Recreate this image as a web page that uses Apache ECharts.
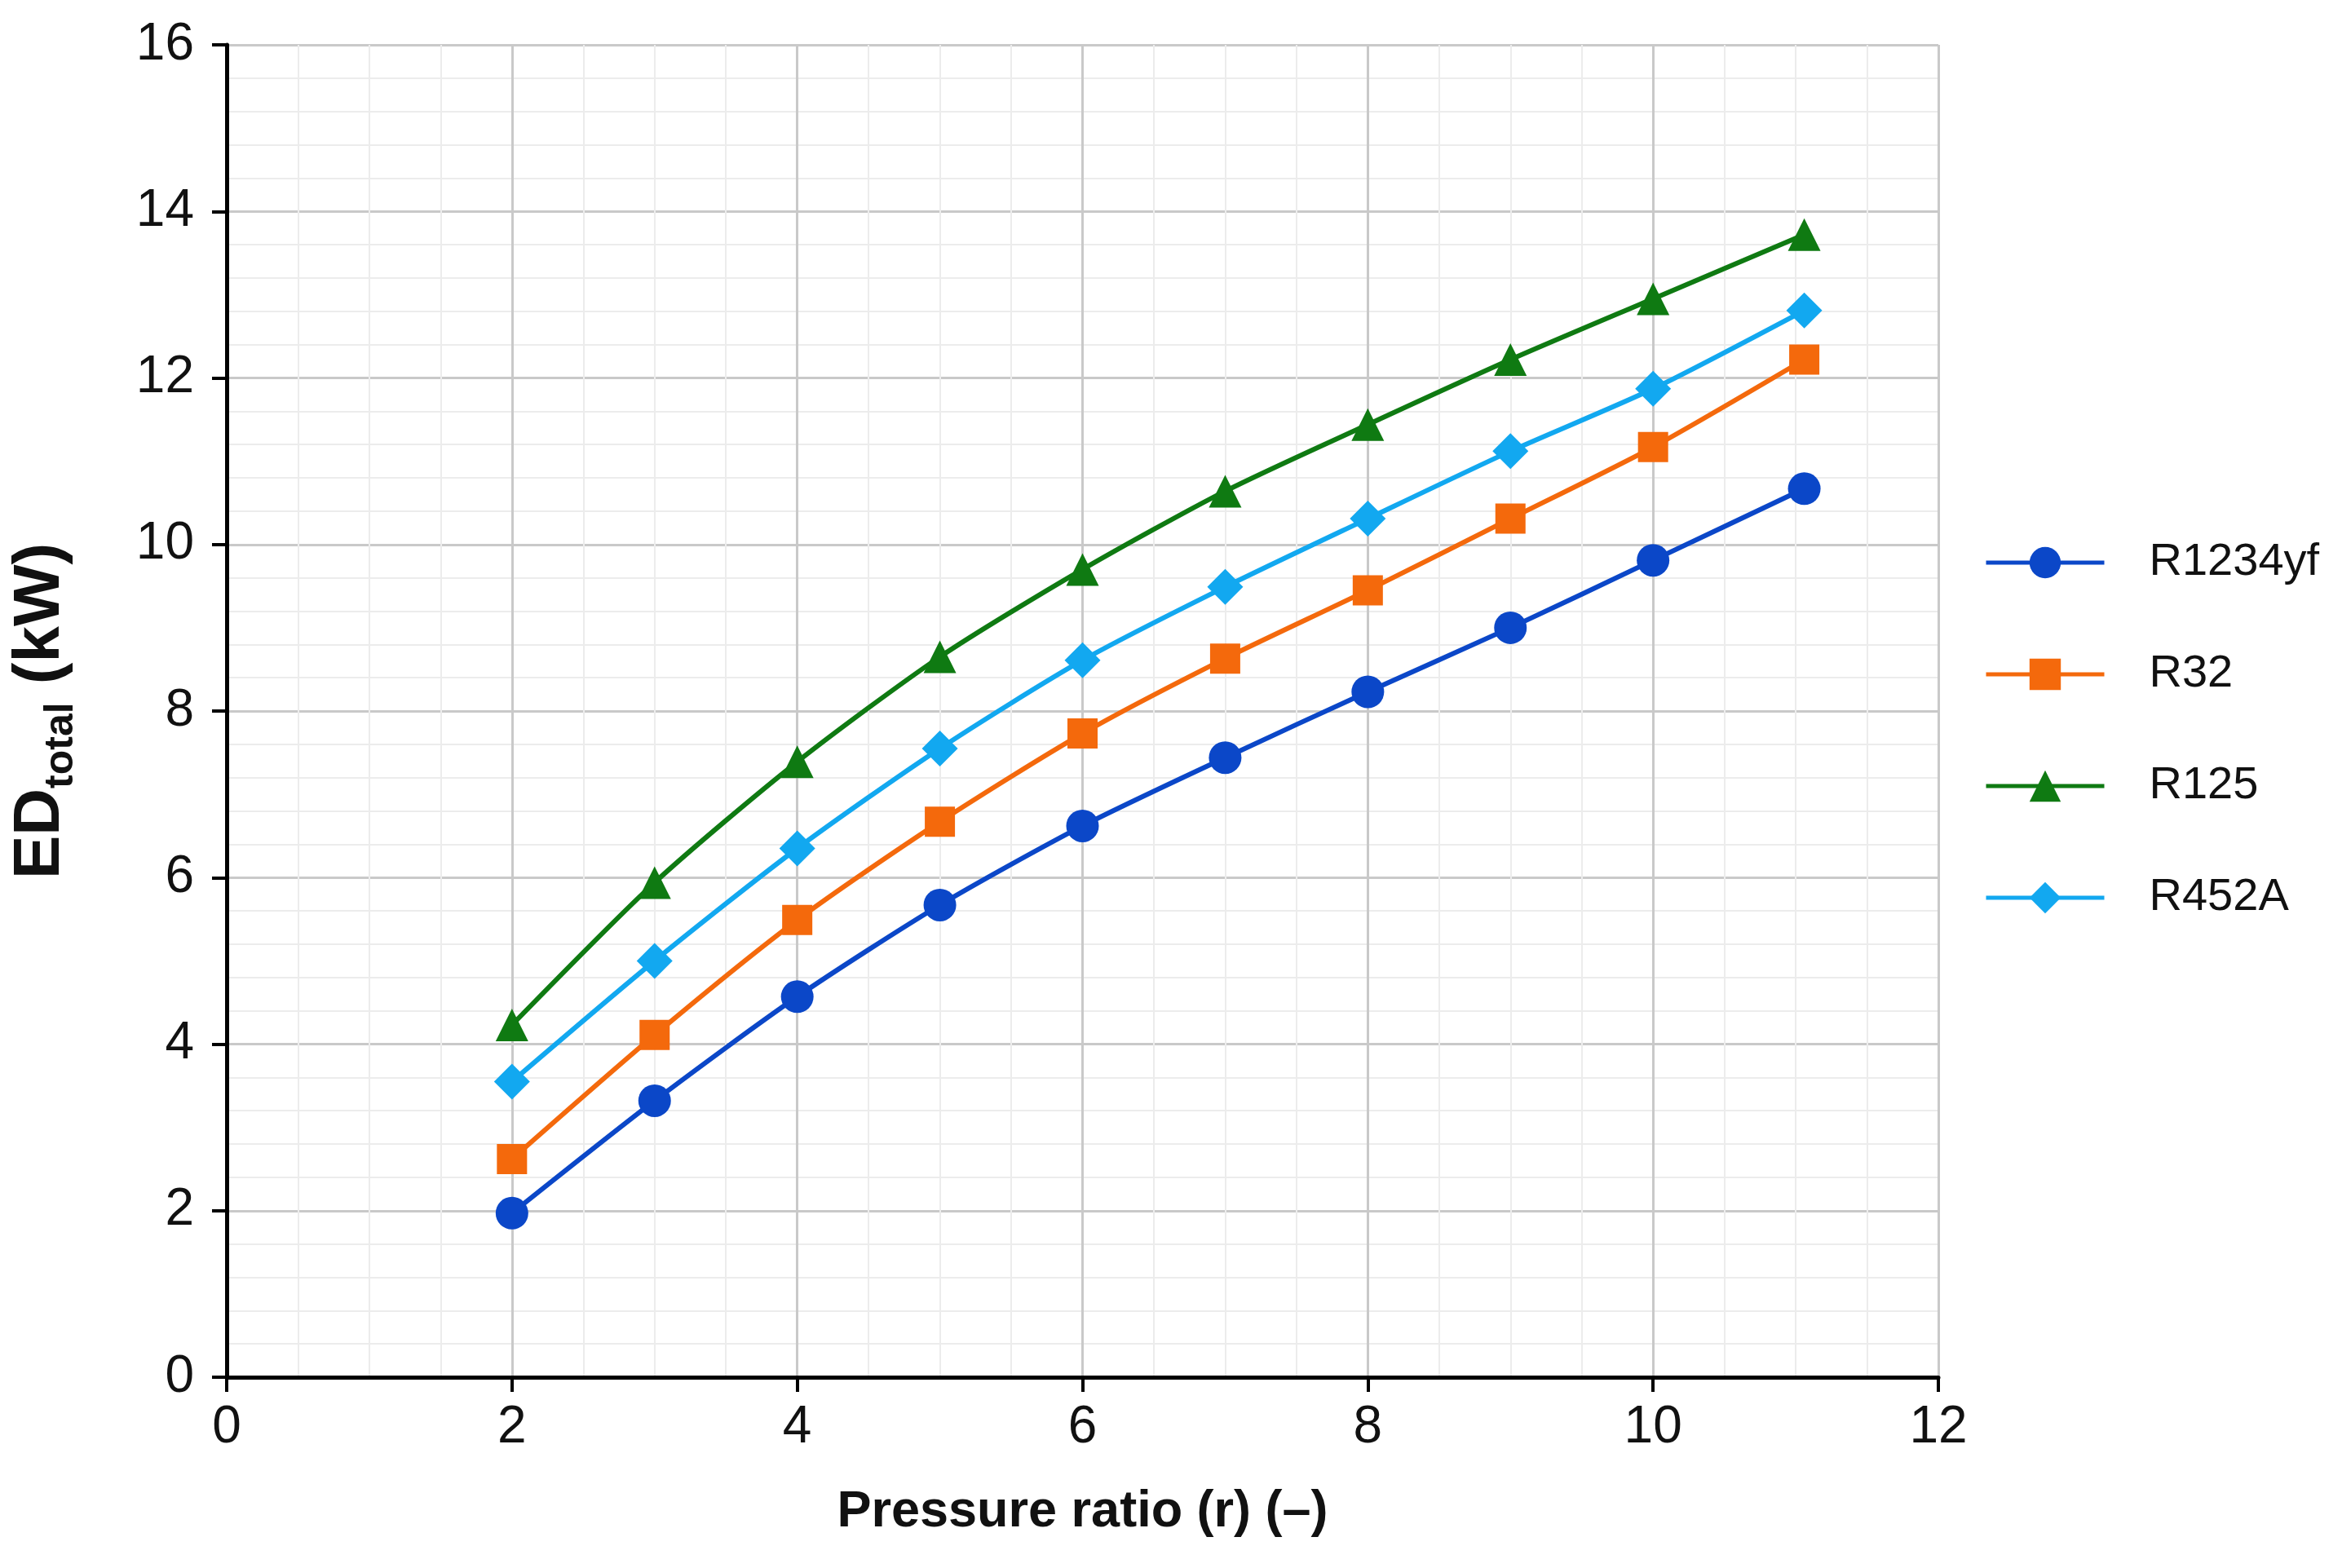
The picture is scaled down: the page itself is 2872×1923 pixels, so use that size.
<!DOCTYPE html>
<html>
<head>
<meta charset="utf-8">
<script src="https://cdn.jsdelivr.net/npm/echarts@6/dist/echarts.min.js"></script>
<style>
html,body{margin:0;padding:0;background:#fff;}
#main{width:2872px;height:1923px;}
</style>
</head>
<body>
<div id="main"></div>
<script>
// 压比 (x) 与各工质的总㶲损 (kW)
var pressureRatio = [2, 3, 4, 5, 6, 7, 8, 9, 10, 11.06];
var R1234yf = [1.97, 3.32, 4.57, 5.67, 6.62, 7.44, 8.23, 9.0, 9.81, 10.67];
var R32 = [2.62, 4.11, 5.49, 6.67, 7.73, 8.63, 9.45, 10.31, 11.17, 12.22];
var R125 = [4.23, 5.94, 7.39, 8.65, 9.70, 10.64, 11.44, 12.22, 12.95, 13.72];
var R452A = [3.55, 5.00, 6.35, 7.55, 8.61, 9.49, 10.31, 11.12, 11.87, 12.81];

var seriesNames = ['R1234yf', 'R32', 'R125', 'R452A'];
var seriesData = [R1234yf, R32, R125, R452A];
var seriesColors = ['#0b47c8', '#f4690c', '#0f7a12', '#12a8f0'];
var seriesSymbols = ['circle', 'rect', 'triangle', 'diamond'];
var symbolSizes = [40, 37, 40, 44];

var FONT = '"Liberation Sans Narrow", "Arial Narrow", "Liberation Sans", Arial, sans-serif';

function pairs(ys){
	var out = [];
	for(var i=0;i<ys.length;i++){
		out.push([pressureRatio[i], ys[i]]);
	}
	return out;
}

var chart = echarts.init(document.getElementById('main'));

var series = [];
for(var i=0;i<seriesNames.length;i++){
	series.push({
		name: seriesNames[i],
		type: 'line',
		data: pairs(seriesData[i]),
		smooth: 0.25,
		symbol: seriesSymbols[i],
		symbolSize: symbolSizes[i],
		color: seriesColors[i],
		lineStyle: {width: 6, color: seriesColors[i]},
		itemStyle: {color: seriesColors[i]},
		z: 3
	});
}

var option = {
	backgroundColor: '#ffffff',
	animation: false,
	grid: {
		left: 278,
		right: 495,
		top: 55,
		bottom: 234,
		containLabel: false,
		outerBoundsMode: 'none'
	},
	legend: {
		orient: 'vertical',
		left: 2428,
		top: 652,
		itemWidth: 145,
		itemHeight: 48,
		itemGap: 71,
		lineStyle: {width: 5},
		textStyle: {
			fontFamily: FONT,
			fontSize: 56,
			color: '#111',
			padding: [0, 0, 0, 50],
			lineHeight: 66
		},
		data: seriesNames
	},
	xAxis: {
		type: 'value',
		min: 0,
		max: 12,
		interval: 2,
		name: 'Pressure ratio (r) (–)',
		nameLocation: 'middle',
		nameGap: 134,
		nameTextStyle: {
			fontFamily: FONT,
			fontSize: 63,
			fontWeight: 'bold',
			color: '#111'
		},
		axisLine: {show: true, onZero: false, lineStyle: {color: '#000', width: 5}},
		axisTick: {show: true, length: 18, lineStyle: {color: '#000', width: 4}},
		axisLabel: {
			margin: 30,
			fontFamily: FONT,
			fontSize: 64,
			color: '#111'
		},
		splitLine: {show: true, lineStyle: {color: '#c9c9c9', width: 3}},
		minorTick: {show: false, splitNumber: 4},
		minorSplitLine: {show: true, lineStyle: {color: '#ececec', width: 2}}
	},
	yAxis: {
		type: 'value',
		min: 0,
		max: 16,
		interval: 2,
		name: '{a|ED}{b|total}{a| (kW)}',
		nameLocation: 'middle',
		nameRotate: 90,
		nameGap: 178,
		nameTextStyle: {
			fontFamily: FONT,
			fontWeight: 'bold',
			color: '#111',
			rich: {
				a: {fontFamily: FONT, fontWeight: 'bold', fontSize: 80, lineHeight: 100, color: '#111', verticalAlign: 'middle'},
				b: {fontFamily: FONT, fontWeight: 'bold', fontSize: 50, lineHeight: 46, color: '#111', verticalAlign: 'bottom'}
			}
		},
		axisLine: {show: true, onZero: false, lineStyle: {color: '#000', width: 5}},
		axisTick: {show: true, length: 18, lineStyle: {color: '#000', width: 4}},
		axisLabel: {
			margin: 40,
			fontFamily: FONT,
			fontSize: 64,
			color: '#111'
		},
		splitLine: {show: true, lineStyle: {color: '#c9c9c9', width: 3}},
		minorTick: {show: false, splitNumber: 5},
		minorSplitLine: {show: true, lineStyle: {color: '#ececec', width: 2}}
	},
	series: series
};

chart.setOption(option);
window.addEventListener('resize', function(){
	chart.resize();
});
</script>
</body>
</html>
